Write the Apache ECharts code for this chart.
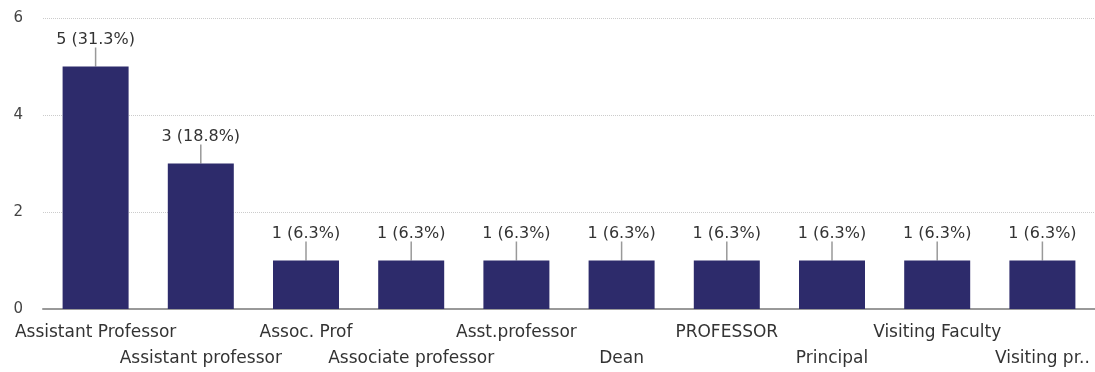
<!DOCTYPE html>
<html>
<head>
<meta charset="utf-8">
<script src="https://cdn.jsdelivr.net/npm/echarts@6/dist/echarts.min.js"></script>
<style>html,body{margin:0;padding:0;background:#fff}#c{width:1095px;height:372px}</style>
</head>
<body>
<div id="c"></div>
<script>
const categories = ["Assistant Professor","Assistant professor","Assoc. Prof","Associate professor","Asst.professor","Dean","PROFESSOR","Principal","Visiting Faculty","Visiting pr.."];
const counts = [5,3,1,1,1,1,1,1,1,1];
const percents = ["31.3%","18.8%","6.3%","6.3%","6.3%","6.3%","6.3%","6.3%","6.3%","6.3%"];
const yTicks = [0,2,4,6];

const FONT = '"DejaVu Sans", Verdana, sans-serif';
const chart = echarts.init(document.getElementById('c'), null, {renderer:'canvas'});
chart.setOption({
  animation:false,
  grid:{left:43,right:-6,top:18,bottom:63,containLabel:false},
  xAxis:{
    type:'category',
    data:categories,
    axisLine:{show:true,lineStyle:{color:'#999',width:2}},
    axisTick:{show:false},
    axisLabel:{
      interval:0,
      color:'#333',
      fontFamily:FONT,
      fontSize:17,
      margin:15,
      formatter:(v,i)=> i%2===1 ? '{b|'+v+'}' : '{a|'+v+'}',
      rich:{
        a:{fontSize:17,color:'#333',padding:[0,0,26,0],fontFamily:FONT},
        b:{fontSize:17,color:'#333',padding:[26,0,0,0],fontFamily:FONT}
      }
    }
  },
  yAxis:{
    type:'value',min:yTicks[0],max:yTicks[yTicks.length-1],interval:2,
    axisLine:{show:false},axisTick:{show:false},
    axisLabel:{color:'#444',fontSize:15,margin:20,fontFamily:FONT},
    splitLine:{show:true,lineStyle:{color:'#ccc',type:'dotted'}}
  },
  series:[{
    type:'bar',
    data:counts,
    barWidth:66,
    itemStyle:{color:'#2d2b6b'},
    label:{
      show:true,position:'top',distance:2,
      color:'#333',fontSize:16,fontFamily:FONT,
      formatter:p=>p.value+' ('+percents[p.dataIndex]+')'
    },
    labelLayout:{dy:-17},
    labelLine:{show:true,lineStyle:{color:'#999',width:1.5}}
  }]
});
</script>
</body>
</html>
